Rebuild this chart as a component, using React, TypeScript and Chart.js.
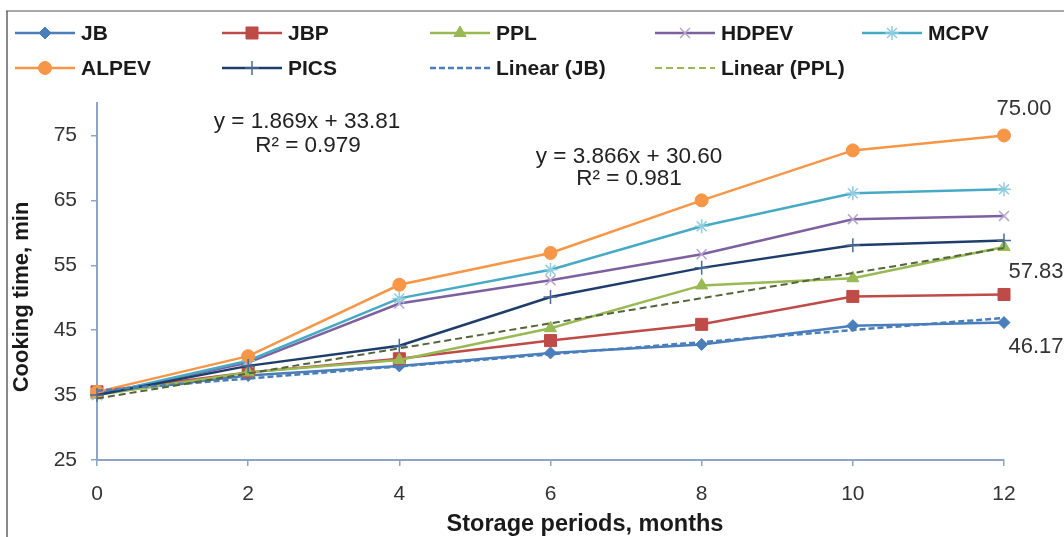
import React, { useEffect, useRef } from 'react';
import { Chart, registerables } from 'chart.js';
import { drawPoint } from 'chart.js/helpers';

Chart.register(...registerables);

// ---- data ----
const months = [0, 2, 4, 6, 8, 10, 12];
const xTicks = [0, 2, 4, 6, 8, 10, 12];
const yTicks = [25, 35, 45, 55, 65, 75];

const jb = [35.3, 38.0, 39.5, 41.5, 42.8, 45.7, 46.17];
const jbp = [35.5, 38.5, 40.6, 43.4, 45.9, 50.2, 50.5];
const ppl = [35.0, 38.5, 40.4, 45.3, 51.9, 53.0, 57.83];
const hdpev = [35.0, 40.0, 49.1, 52.7, 56.7, 62.1, 62.6];
const mcpv = [35.0, 40.3, 49.9, 54.3, 61.0, 66.1, 66.7];
const alpev = [35.5, 41.0, 52.0, 56.9, 65.0, 72.7, 75.0];
const pics = [35.0, 39.5, 42.6, 50.1, 54.6, 58.1, 58.8];

// trend line values (as given by the chart's fitted equations)
const trendJB = [35.68, 37.55, 39.42, 41.29, 43.16, 45.02, 46.89];
const trendPPL = [34.47, 38.33, 42.20, 46.06, 49.93, 53.80, 57.66];

const eqJB = ['y = 1.869x + 33.81', 'R² = 0.979'];
const eqPPL = ['y = 3.866x + 30.60', 'R² = 0.981'];

const xTitle = 'Storage periods, months';
const yTitle = 'Cooking time, min';

const FONT = '"Liberation Sans", Arial, sans-serif';

type S = {
  label: string;
  data: number[];
  color: string;
  point: any;
  radius: number;
  marker: string;
  markerWidth: number;
  dash?: number[];
  legendColor?: string;
  width: number;
};

const series: S[] = [
  { label: 'JB', data: jb, color: '#4A7EBB', point: 'rectRot', radius: 6, marker: '#4A7EBB', markerWidth: 1, width: 2.5 },
  { label: 'JBP', data: jbp, color: '#BE4B48', point: 'rect', radius: 8.5, marker: '#BE4B48', markerWidth: 1, width: 2.5 },
  { label: 'PPL', data: ppl, color: '#98B954', point: 'triangle', radius: 7, marker: '#98B954', markerWidth: 1, width: 2.5 },
  { label: 'HDPEV', data: hdpev, color: '#7D60A0', point: 'crossRot', radius: 7, marker: '#B4A4CC', markerWidth: 1.5, width: 2.5 },
  { label: 'MCPV', data: mcpv, color: '#46AAC5', point: 'star', radius: 7, marker: '#8FCDE0', markerWidth: 1.5, width: 2.5 },
  { label: 'ALPEV', data: alpev, color: '#F79646', point: 'circle', radius: 6.5, marker: '#F79646', markerWidth: 1, width: 2.5 },
  { label: 'PICS', data: pics, color: '#1F3D6B', point: 'cross', radius: 7, marker: '#4A6A98', markerWidth: 1.5, width: 2.5 },
  { label: 'Linear (JB)', data: trendJB, color: '#4A7EBB', point: false, radius: 0, marker: '#4A7EBB', markerWidth: 0, dash: [6, 3], width: 2.5 },
  { label: 'Linear (PPL)', data: trendPPL, color: '#55653A', point: false, radius: 0, marker: '#98B954', markerWidth: 0, dash: [7, 4], width: 2, legendColor: '#98B954' },
];

const legendPos = [
  [15, 33], [222, 33], [430, 33], [655, 33], [862, 33],
  [15, 68], [222, 68], [430, 68], [655, 68],
];

const overlay = {
  id: 'overlay',
  beforeDraw(chart: any) {
    const ctx = chart.ctx;
    ctx.save();
    ctx.fillStyle = '#ffffff';
    ctx.fillRect(0, 0, chart.width, chart.height);
    ctx.restore();
  },
  afterDraw(chart: any) {
    const ctx: CanvasRenderingContext2D = chart.ctx;
    ctx.save();
    // frame
    ctx.strokeStyle = '#8a8a8a';
    ctx.lineWidth = 2;
    ctx.beginPath();
    ctx.moveTo(7, 540);
    ctx.lineTo(7, 11);
    ctx.stroke();
    ctx.strokeStyle = '#555';
    ctx.lineWidth = 1.2;
    ctx.beginPath();
    ctx.moveTo(6, 11);
    ctx.lineTo(1064, 11);
    ctx.stroke();

    // legend
    series.forEach((s, i) => {
      const [x0, y] = legendPos[i];
      const col = s.legendColor || s.color;
      ctx.save();
      ctx.strokeStyle = col;
      ctx.lineWidth = s.width;
      ctx.setLineDash(s.dash || []);
      ctx.beginPath();
      ctx.moveTo(x0, y);
      ctx.lineTo(x0 + 60, y);
      ctx.stroke();
      ctx.setLineDash([]);
      if (s.point) {
        ctx.fillStyle = s.marker;
        ctx.strokeStyle = s.marker;
        ctx.lineWidth = s.markerWidth;
        drawPoint(ctx, { pointStyle: s.point, radius: s.radius, rotation: 0, borderWidth: s.markerWidth } as any, x0 + 30, y);
      }
      ctx.restore();
      ctx.fillStyle = '#1a1a1a';
      ctx.font = `bold 21px ${FONT}`;
      ctx.textAlign = 'left';
      ctx.textBaseline = 'middle';
      ctx.fillText(s.label, x0 + 66, y + 1);
    });

    // axis titles
    ctx.fillStyle = '#1a1a1a';
    ctx.font = `bold 23.5px ${FONT}`;
    ctx.textAlign = 'center';
    ctx.textBaseline = 'alphabetic';
    ctx.fillText(xTitle, 585, 531);
    ctx.save();
    ctx.translate(28, 297);
    ctx.rotate(-Math.PI / 2);
    ctx.font = `bold 22px ${FONT}`;
    ctx.fillText(yTitle, 0, 0);
    ctx.restore();

    // equations
    ctx.fillStyle = '#222';
    ctx.font = `22.5px ${FONT}`;
    ctx.textBaseline = 'middle';
    ctx.textAlign = 'center';
    ctx.fillText(eqJB[0], 307, 122);
    ctx.fillText(eqJB[1], 308, 146);
    ctx.fillText(eqPPL[0], 629, 157);
    ctx.fillText(eqPPL[1], 629, 179);

    // data labels
    const lbl = (dsIndex: number, dx: number, dy: number) => {
      const meta = chart.getDatasetMeta(dsIndex);
      const last = meta.data.length - 1;
      const pt = meta.data[last];
      const v = series[dsIndex].data[last];
      ctx.fillStyle = '#333';
      ctx.font = `22px ${FONT}`;
      ctx.textAlign = 'center';
      ctx.textBaseline = 'middle';
      ctx.fillText(v.toFixed(2), pt.x + dx, pt.y + dy);
    };
    lbl(5, 20, -27);
    lbl(2, 32, 25);
    lbl(0, 32, 24);
    ctx.restore();
  },
};

export default function App() {
  const ref = useRef<HTMLCanvasElement | null>(null);

  useEffect(() => {
    if (!ref.current) return;
    const axisColor = '#8EA5C8';
    const chart = new Chart(ref.current, {
      type: 'line',
      data: {
        datasets: series.map((s, i) => ({
          label: s.label,
          data: months.map((m, k) => ({ x: m, y: s.data[k] })),
          borderColor: s.color,
          backgroundColor: s.marker,
          borderWidth: s.width,
          borderDash: s.dash || [],
          pointStyle: s.point,
          pointRadius: s.radius,
          pointBackgroundColor: s.marker,
          pointBorderColor: s.marker,
          pointBorderWidth: s.markerWidth,
          tension: 0,
          fill: false,
          clip: false as any,
          order: 20 - i,
        })),
      },
      options: {
        responsive: false,
        animation: false,
        layout: { padding: { top: 103, right: 60, left: 0, bottom: 0 } },
        plugins: {
          legend: { display: false },
          tooltip: { enabled: false },
        },
        scales: {
          x: {
            type: 'linear',
            min: 0,
            max: 12,
            afterBuildTicks: (scale: any) => {
              scale.ticks = xTicks.map((v) => ({ value: v }));
            },
            afterFit: (scale: any) => {
              scale.height = 77;
            },
            grid: { display: true, drawOnChartArea: false, drawTicks: true, tickLength: 6, color: axisColor, lineWidth: 1.5 },
            border: { display: true, color: axisColor, width: 2 },
            ticks: { font: { family: FONT, size: 21 }, color: '#333', padding: 16, maxRotation: 0 },
          },
          y: {
            type: 'linear',
            min: 25,
            max: 80,
            afterBuildTicks: (scale: any) => {
              scale.ticks = yTicks.map((v) => ({ value: v }));
            },
            afterFit: (scale: any) => {
              scale.width = 97;
            },
            grid: { display: true, drawOnChartArea: false, drawTicks: true, tickLength: 6, color: axisColor, lineWidth: 1.5 },
            border: { display: true, color: axisColor, width: 2 },
            ticks: { font: { family: FONT, size: 21 }, color: '#333', padding: 14 },
          },
        },
      },
      plugins: [overlay],
    });
    return () => chart.destroy();
  }, []);

  return (
    <div style={{ position: 'absolute', left: 0, top: 0, width: 1064, height: 537, background: '#fff' }}>
      <canvas ref={ref} width={1064} height={537} style={{ display: 'block', width: 1064, height: 537 }} />
    </div>
  );
}
